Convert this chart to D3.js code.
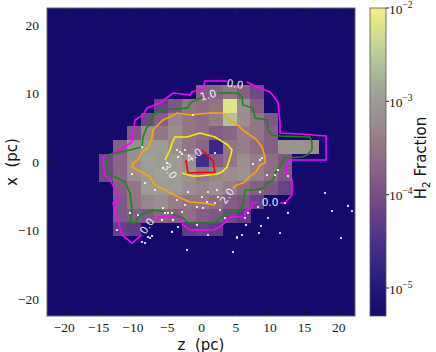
<!DOCTYPE html>
<html>
<head>
<meta charset="utf-8">
<script src="https://cdn.jsdelivr.net/npm/d3@7/dist/d3.min.js"></script>
<style>
  body { margin: 0; background: #fff; }
  text { font-family: "DejaVu Sans", sans-serif; }
</style>
</head>
<body>
<svg id="chart" width="436" height="352"></svg>
<script>
// cell centres (pc), 2 pc cells
const zCells = [-13.8, -11.8, -9.8, -7.8, -5.8, -3.8, -1.8, 0.2, 2.2, 4.2, 6.2, 8.2, 10.2, 12.2, 14.2, 16.2, 18.2]
const xCells = [10.2, 8.2, 6.2, 4.2, 2.2, 0.2, -1.8, -3.8, -5.8, -7.8, -9.8]

// log10 H2 fraction per cell, rows follow xCells, columns follow zCells
const h2LogFrac = [
  [null, null, null, null, null, null, null, -3.8, -3.7, -3.5, -3.8, -4.1, null, null, null, null, null],
  [null, null, null, null, -4.2, -3.9, -3.5, -3.6, -3.5, -2.15, -3.2, -3.8, null, null, null, null, null],
  [null, null, null, -4.1, -3.8, -3.3, -3.5, -3.6, -3.4, -2.6, -3.2, -3.5, -3.9, null, null, null, null],
  [null, null, -3.9, -3.2, -3.5, -3.2, -3.5, -3.6, -3.8, -3.7, -3.4, -3.5, -3.8, null, null, null, null],
  [null, -3.8, -3.2, -3.0, -3.0, -3.2, -3.5, -3.7, -4.7, -3.5, -3.4, -3.6, -3.8, -3.1, -3.1, -3.2, null],
  [-4.1, -3.7, -3.2, -2.95, -3.0, -3.0, -3.2, -4.6, -3.8, -3.5, -3.2, -3.4, -3.6, -3.9, null, null, null],
  [-4.1, -3.7, -3.2, -3.0, -2.95, -3.0, -3.1, -3.5, -3.3, -3.2, -3.1, -3.4, -3.6, -3.9, null, null, null],
  [null, -3.8, -3.5, -3.0, -3.0, -3.0, -3.2, -3.3, -3.2, -3.4, -3.6, -3.8, -3.9, -4.2, null, null, null],
  [null, -3.9, -3.5, -3.3, -3.2, -3.4, -3.5, -3.5, -3.6, -3.8, -3.9, -4.2, null, null, null, null, null],
  [null, -3.9, -3.8, -3.9, -3.7, -3.8, -3.6, -3.8, -3.9, -4.1, -4.3, null, null, null, null, null, null],
  [null, -4.2, -4.3, null, null, null, -4.3, -4.2, -4.3, null, null, null, null, null, null, null, null]
]

const zTicks = [-20, -15, -10, -5, 0, 5, 10, 15, 20]
const xTicks = [-20, -10, 0, 10, 20]
const cbarTicks = [-5, -4, -3, -2]

// density contours, [z, x] in pc, split where the inline labels sit
const level0 = [
  [[6.71, 11.66], [8.16, 10.93], [10.06, 10.2], [11.22, 8.75], [11.52, 5.69], [11.52, 4.23], [14.43, 4.08], [16.33, 3.94], [18.22, 3.79], [18.22, 0.29], [14.43, 0.29], [12.68, 0.29], [12.54, -0.44], [12.54, -1.9], [13.27, -2.62], [13.27, -4.81], [12.24, -5.98], [11.52, -5.98]],
  [[8.31, -5.83], [7.43, -5.98], [7.43, -6.56], [6.41, -7.29], [6.41, -8.02], [4.23, -8.02], [3.94, -8.45], [2.77, -9.48], [1.75, -9.91], [-1.6, -9.91], [-2.62, -9.18], [-3.06, -8.02], [-6.27, -8.02], [-6.41, -8.75]],
  [[-8.6, -10.64], [-10.06, -11.81], [-11.52, -10.64], [-12.83, -5.98], [-12.1, -5.83], [-12.1, -4.81], [-13.27, -2.62], [-13.99, -1.9], [-14.29, 0.58], [-11.81, 1.75], [-10.06, 2.92], [-9.91, 4.37], [-9.62, 6.12], [-8.45, 6.85], [-7.87, 7.87], [-5.98, 8.6], [-4.08, 10.06], [-1.6, 9.77], [-1.31, 10.2], [0.29, 10.79], [0.58, 11.81], [3.79, 11.81]]
]
const level1 = [
  [[2.33, 10.06], [5.39, 10.06], [5.98, 9.48], [6.12, 8.31], [7.58, 7.87], [7.87, 6.41], [9.62, 6.12], [9.77, 4.66], [10.35, 3.94], [11.52, 3.79], [15.89, 3.64], [16.18, 2.77], [16.18, 1.75], [15.45, 1.02], [14.72, 0.73], [12.24, 0.58], [11.52, -0.73], [10.79, -1.6], [10.5, -2.62], [9.62, -3.06], [9.04, -3.79], [7.58, -4.08], [6.41, -4.08], [6.12, -6.27], [5.69, -7.0], [4.23, -7.29], [3.5, -7.73], [2.77, -8.16], [2.04, -8.89], [-1.9, -8.89], [-2.62, -8.16], [-4.96, -7.29], [-7.0, -7.0], [-8.89, -7.73], [-9.62, -8.89], [-10.35, -8.75], [-10.06, -7.0], [-10.35, -4.52], [-11.08, -2.92], [-13.7, -1.6], [-13.85, -0.44], [-13.56, 1.02], [-11.81, 1.46], [-10.35, 1.75], [-8.6, 2.19], [-8.45, 3.64], [-7.87, 5.1], [-7.43, 5.39], [-7.0, 6.85], [-5.69, 7.58], [-1.9, 7.87], [-1.6, 8.6], [0.15, 9.48]]
]
const level2 = [
  [[2.04, -6.27], [0.29, -5.98], [-1.6, -5.83], [-3.35, -5.1], [-5.25, -4.08], [-6.71, -3.35], [-7.43, -2.19], [-8.45, -1.6], [-10.06, -0.73], [-9.91, -0.15], [-9.18, 0.29], [-8.6, 1.46], [-7.73, 2.04], [-7.14, 3.5], [-7.0, 4.66], [-5.54, 6.12], [-4.23, 6.71], [-3.5, 7.14], [-1.6, 6.85], [1.31, 7.14], [3.06, 7.14], [4.23, 6.12], [5.39, 5.39], [6.12, 4.66], [8.16, 3.21], [8.89, 2.19], [9.33, 0.73], [9.33, -0.15], [8.6, -0.44], [8.02, -1.46], [6.85, -2.33], [6.41, -2.92], [5.25, -3.35], [4.66, -3.79]]
]
const level3 = [
  [[-5.25, 0.29], [-4.52, 1.75], [-4.23, 2.77], [-3.79, 3.64], [-2.04, 3.64], [-0.15, 4.23], [2.04, 3.64], [3.94, 2.48], [4.52, 1.75], [4.23, 0.58], [3.79, -0.73], [3.06, -1.46], [2.33, -1.75], [-0.15, -2.04], [-1.31, -2.04], [-2.77, -1.6]]
]
const level4 = [
  [[0.15, 1.75], [1.75, 0.15], [2.04, -1.46], [-1.9, -1.6], [-2.19, 0.29], [-2.19, -0.15]]
]
const contourLevels = [level0, level1, level2, level3, level4]

// inline contour labels: z, x, text, angle (deg)
const contourLabels = [
  [4.96, 11.37, '0.0', 8],
  [1.02, 9.77, '1.0', -15],
  [-7.87, -9.33, '0.0', -55],
  [10.06, -5.83, '0.0', 0],
  [3.79, -4.96, '2.0', -55],
  [-4.52, -1.31, '3.0', 55],
  [-1.02, 1.02, '4.0', -35]
]

// star particles, [z, x] in pc
const stars = [
  [-1.17, 6.85], [-8.6, 2.19], [-3.5, 1.75], [-3.06, 1.46], [-2.77, 1.17], [-2.33, 1.75], [-3.35, 0.73],
  [2.04, 1.31], [-4.96, -0.15], [-5.54, -0.87], [8.6, 0.29], [8.89, 0.58], [7.58, -0.29], [11.22, -1.17],
  [10.79, -1.9], [9.62, -1.9], [12.68, -2.04], [-10.06, -1.75], [-8.16, -3.06], [-6.71, -4.08], [-1.9, -4.37],
  [0.15, -5.1], [1.02, -4.37], [2.33, -4.08], [2.48, -5.1], [0.87, -5.83], [2.04, -5.98], [-0.58, -6.56],
  [0.29, -6.71], [-2.33, -6.27], [-3.5, -5.54], [-2.77, -7.29], [-5.54, -6.71], [-5.25, -7.43], [-4.81, -7.43],
  [-4.23, -7.43], [-5.69, -8.45], [-4.08, -8.45], [-3.35, -9.48], [-4.23, -10.2], [-12.24, -9.91], [-10.35, -7.43],
  [-9.18, -7.73], [-7.73, -10.93], [-7.43, -11.08], [-7.14, -10.79], [-8.6, -11.66], [-8.16, -11.81], [-2.04, -12.83],
  [4.66, -13.12], [5.25, -10.93], [1.02, -10.64], [-0.58, -9.18], [3.5, -8.16], [2.77, -7.0], [8.31, -6.56],
  [8.6, -4.37], [12.24, -5.98], [12.68, -7.43], [18.08, -4.52], [19.1, -7.14], [21.43, -6.41], [22.01, -7.14],
  [6.41, -8.16], [6.85, -7.43], [9.77, -8.16], [6.56, -9.18], [8.75, -9.33], [8.45, -10.35], [11.52, -10.35],
  [5.25, -11.08], [5.98, -10.64], [20.41, -11.08]
]

// colour map (log10 fraction -> colour)
const cmapStops = [-5.3, -5.0, -4.7, -4.4, -4.1, -3.8, -3.5, -3.2, -2.9, -2.6, -2.3, -2.0]
const cmapColors = ['#130a6c', '#22187a', '#3a2886', '#56368a', '#704886', '#845e84', '#927686', '#9a8e90',
                    '#9ea396', '#aec29e', '#d0dc92', '#f6ef7c']
const levelColors = ['#ff00ff', '#138a13', '#ffa500', '#ffee00', '#ff0000']

const serif = '"Liberation Serif", "DejaVu Serif", serif'

const svg = d3.select('#chart')
const plot = {left: 47, right: 355, top: 8, bottom: 316}
const half = 22.45
const cell = 2

const sx = d3.scaleLinear().domain([-half, half]).range([plot.left, plot.right])
const sy = d3.scaleLinear().domain([-half, half]).range([plot.bottom, plot.top])
const color = d3.scaleLinear().domain(cmapStops).range(cmapColors).clamp(true)

svg.append('defs').append('clipPath').attr('id', 'clip')
  .append('rect')
    .attr('x', plot.left).attr('y', plot.top)
    .attr('width', plot.right - plot.left).attr('height', plot.bottom - plot.top)

const g = svg.append('g').attr('clip-path', 'url(#clip)')

g.append('rect')
  .attr('x', plot.left).attr('y', plot.top)
  .attr('width', plot.right - plot.left).attr('height', plot.bottom - plot.top)
  .attr('fill', color(-5.3))

const cells = []
h2LogFrac.forEach((row, i) => row.forEach((v, j) => {
  if (v !== null) cells.push({z: zCells[j], x: xCells[i], v: v})
}))

g.append('g').attr('shape-rendering', 'crispEdges')
  .selectAll('rect').data(cells).join('rect')
    .attr('x', d => sx(d.z - cell / 2))
    .attr('y', d => sy(d.x + cell / 2))
    .attr('width', d => sx(d.z + cell / 2) - sx(d.z - cell / 2) + 0.3)
    .attr('height', d => sy(d.x - cell / 2) - sy(d.x + cell / 2) + 0.3)
    .attr('fill', d => color(d.v))

const line = d3.line().x(d => sx(d[0])).y(d => sy(d[1]))

contourLevels.forEach((segs, k) => {
  g.append('g').selectAll('path').data(segs).join('path')
    .attr('d', line)
    .attr('fill', 'none')
    .attr('stroke', levelColors[k])
    .attr('stroke-width', 1.6)
    .attr('stroke-linejoin', 'miter')
})

g.append('g').selectAll('circle').data(stars).join('circle')
  .attr('cx', d => sx(d[0])).attr('cy', d => sy(d[1]))
  .attr('r', 1.1)
  .attr('fill', '#ffffff')

g.append('g').selectAll('text').data(contourLabels).join('text')
  .attr('transform', d => `translate(${sx(d[0])},${sy(d[1])}) rotate(${d[3]})`)
  .attr('text-anchor', 'middle')
  .attr('dy', '0.36em')
  .attr('font-size', 10.5)
  .attr('fill', '#eeeef4')
  .text(d => d[2])

// axes, ticks pointing inward
const axisB = d3.axisBottom(sx).tickValues(zTicks).tickSizeInner(-4).tickSizeOuter(0).tickPadding(6)
const axisL = d3.axisLeft(sy).tickValues(xTicks).tickSizeInner(-4).tickSizeOuter(0).tickPadding(8)

const gb = svg.append('g').attr('transform', `translate(0,${plot.bottom})`).call(axisB)
const gl = svg.append('g').attr('transform', `translate(${plot.left},0)`).call(axisL)
svg.append('g').attr('transform', `translate(0,${plot.top})`)
  .call(d3.axisTop(sx).tickValues(zTicks).tickSizeInner(-4).tickSizeOuter(0).tickFormat(''))
svg.append('g').attr('transform', `translate(${plot.right},0)`)
  .call(d3.axisRight(sy).tickValues(xTicks).tickSizeInner(-4).tickSizeOuter(0).tickFormat(''))

svg.selectAll('.domain').remove()
svg.selectAll('.tick line').attr('stroke', '#222')
for (const ax of [gb, gl]) {
  ax.attr('font-family', null).attr('font-size', null)
  ax.selectAll('text')
    .style('font-family', serif)
    .style('font-size', '13.5px')
    .style('fill', '#1a1a1a')
}

svg.append('rect')
  .attr('x', plot.left).attr('y', plot.top)
  .attr('width', plot.right - plot.left).attr('height', plot.bottom - plot.top)
  .attr('fill', 'none').attr('stroke', '#666').attr('stroke-width', 1)

svg.append('text')
  .attr('x', (plot.left + plot.right) / 2).attr('y', 349.5)
  .attr('text-anchor', 'middle').attr('font-size', 15).attr('fill', '#111')
  .attr('xml:space', 'preserve')
  .text('z  (pc)')

svg.append('text')
  .attr('transform', `translate(17,${(plot.top + plot.bottom) / 2}) rotate(-90)`)
  .attr('text-anchor', 'middle').attr('font-size', 15).attr('fill', '#111')
  .attr('xml:space', 'preserve')
  .text('x  (pc)')

// colour bar
const cb = {left: 370, right: 386}
const cy = d3.scaleLinear().domain([-5.3, -2.0]).range([plot.bottom, plot.top])
const steps = d3.range(plot.top, plot.bottom, 1)
svg.append('g').attr('shape-rendering', 'crispEdges')
  .selectAll('rect').data(steps).join('rect')
    .attr('x', cb.left).attr('y', d => d)
    .attr('width', cb.right - cb.left).attr('height', 1.2)
    .attr('fill', d => color(cy.invert(d + 0.5)))

svg.append('rect')
  .attr('x', cb.left).attr('y', plot.top)
  .attr('width', cb.right - cb.left).attr('height', plot.bottom - plot.top)
  .attr('fill', 'none').attr('stroke', '#555').attr('stroke-width', 0.8)

const cbt = svg.append('g').selectAll('g').data(cbarTicks).join('g')
  .attr('transform', d => `translate(${cb.right},${cy(d)})`)
cbt.append('line').attr('x1', 0).attr('x2', 3).attr('stroke', '#222')
const cbl = cbt.append('text').attr('x', 3).attr('y', 5.5)
  .style('font-family', serif).style('font-size', '13.5px').style('fill', '#1a1a1a')
cbl.append('tspan').text('10')
cbl.append('tspan').attr('dy', -6).style('font-size', '9.5px').text(d => '\u2212' + Math.abs(d))

const cbLabel = svg.append('text')
  .attr('transform', `translate(426,${(plot.top + plot.bottom) / 2 - 4}) rotate(-90)`)
  .attr('text-anchor', 'middle').attr('font-size', 15).attr('fill', '#111')
cbLabel.append('tspan').text('H')
cbLabel.append('tspan').attr('font-size', 10.5).attr('dy', 4).text('2')
cbLabel.append('tspan').attr('dy', -4).text(' Fraction')
</script>
</body>
</html>
